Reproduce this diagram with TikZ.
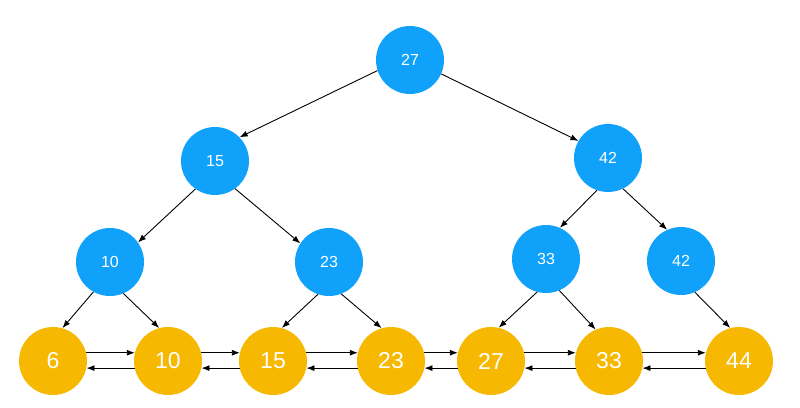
\documentclass[tikz,border=0pt]{standalone}
\usepackage{fontspec}
\setmainfont{Liberation Sans}
\usetikzlibrary{arrows.meta}
\definecolor{treeblue}{RGB}{16,162,250}
\definecolor{leafyellow}{RGB}{246,184,0}
\begin{document}
\begin{tikzpicture}[x=1pt,y=-1pt,
  inner/.style={circle,fill=treeblue,minimum size=68pt,inner sep=0pt,text=white,font=\fontsize{16}{16}\selectfont},
  leaf/.style={circle,fill=leafyellow,minimum size=68pt,inner sep=0pt,text=white,font=\fontsize{23}{23}\selectfont},
  edge/.style={draw=black,line width=0.9pt,-{Latex[length=8pt,width=6pt]}}]
\useasboundingbox (0,0) rectangle (800,407);
% internal nodes
\node[inner] (r)   at (410,60)  {27};
\node[inner] (a15) at (215,161) {15};
\node[inner] (a42) at (608,158) {42};
\node[inner] (b10) at (110,262) {10};
\node[inner] (b23) at (329,262) {23};
\node[inner] (b33) at (546,259) {33};
\node[inner] (b42) at (681,261) {42};
% leaves
\node[leaf] (l6)  at (53,361)  {6};
\node[leaf] (l10) at (168,361) {10};
\node[leaf] (l15) at (273,361) {15};
\node[leaf] (l23) at (391,361) {23};
\node[leaf] (l27) at (491,361) {27};
\node[leaf] (l33) at (609,361) {33};
\node[leaf] (l44) at (739,361) {44};
% tree edges
\path[edge] (r.198) -- (a15.44);
\path[edge] (r.336) -- (a42.150);
\path[edge] (a15.235) -- (b10.35);
\path[edge] (a15.306) -- (b23.147);
\path[edge] (a42.251) -- (b33.66);
\path[edge] (a42.296) -- (b42.114);
\path[edge] (b10.241) -- (l6.74);
\path[edge] (b10.293) -- (l10.105);
\path[edge] (b23.251) -- (l15.75);
\path[edge] (b23.291) -- (l23.106);
\path[edge] (b33.255) -- (l27.77);
\path[edge] (b33.293) -- (l33.113);
\path[edge] (b42.294) -- (l44.105);
% linked list
\foreach \p/\q in {l6/l10,l10/l15,l15/l23,l23/l27,l27/l33,l33/l44}{
  \path[edge] (\p.14) -- (\q.166);
  \path[edge] (\q.192) -- (\p.348);
}
\end{tikzpicture}
\end{document}
